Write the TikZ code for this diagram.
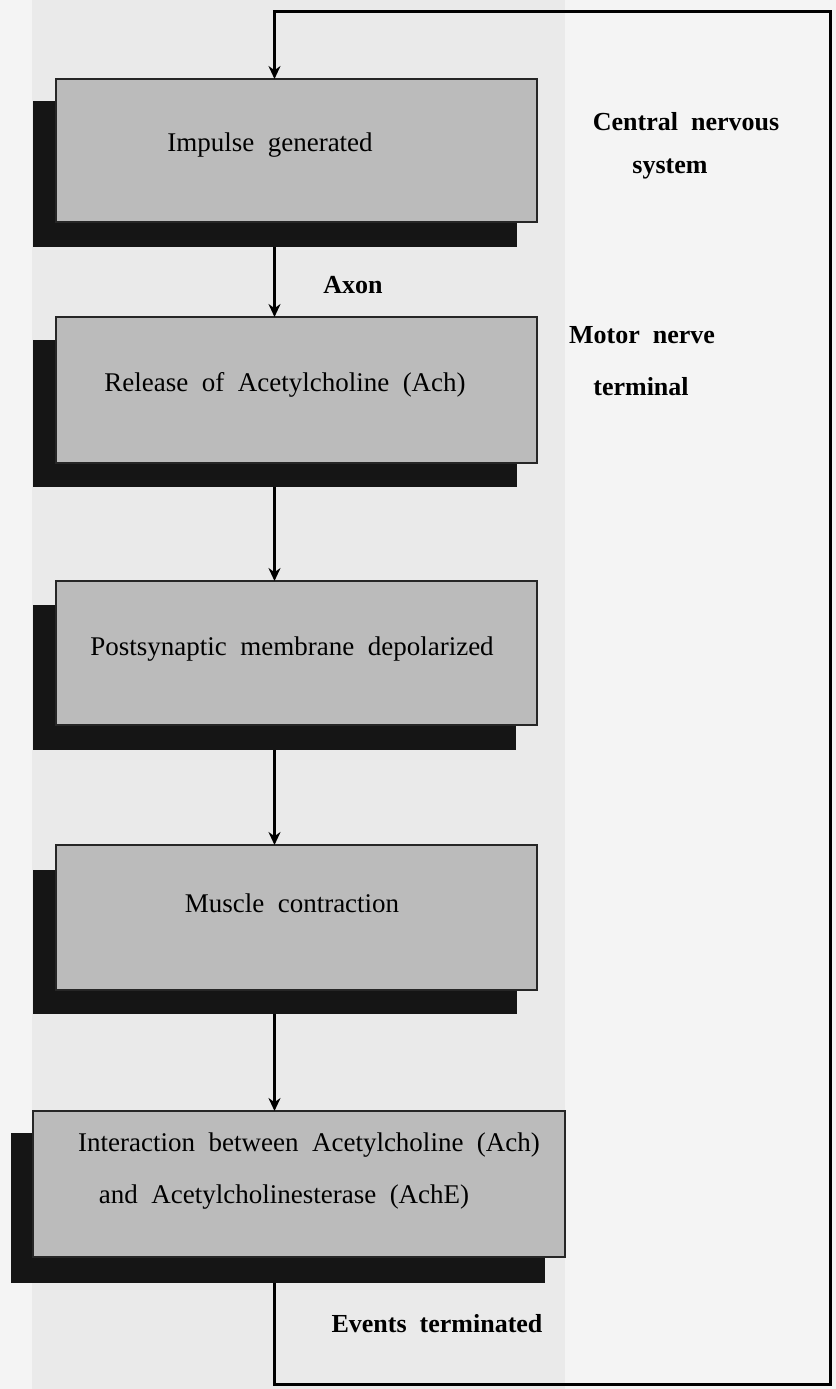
\documentclass[tikz,border=0pt]{standalone}
\usepackage{fontspec}
\setmainfont{Liberation Serif}
\newfontfamily\boxfont[WordSpace=1.7]{Liberation Serif}
\newfontfamily\labelfont[WordSpace=2]{Liberation Serif}
\usetikzlibrary{arrows.meta,calc}

\definecolor{paper}{HTML}{F4F4F4}
\definecolor{pastedpaper}{HTML}{EAEAEA}
\definecolor{boxgray}{HTML}{BBBBBB}
\definecolor{shadowink}{HTML}{151515}

% a rectangle node given by its corners: style, name, x1, y1, x2, y2
\newcommand\flowrect[6]{%
  \node[#1, minimum width={(#5-#3)*0.5pt}, minimum height={(#6-#4)*0.5pt}] (#2) at (#3,#4) {};}

\begin{document}
\begin{tikzpicture}[x=0.5pt,y=-0.5pt,
  shadowbox/.style={rectangle,fill=shadowink,inner sep=0,outer sep=0,anchor=north west},
  stepbox/.style={rectangle,fill=boxgray,draw=black!85,line width=0.9pt,inner sep=0,outer sep=0,anchor=north west},
  boxtext/.style={font=\boxfont\fontsize{13.5}{16}\selectfont,inner sep=0,anchor=base},
  sidelabel/.style={font=\labelfont\bfseries\fontsize{13}{15}\selectfont,inner sep=0,anchor=base},
  flow/.style={line width=1.4pt,-{Stealth[length=6.5pt,width=6pt]}},
  loopline/.style={line width=1.5pt,line join=miter}
]
% page
\fill[paper] (0,0) rectangle (836,1389);
\fill[pastedpaper] (32,0) rectangle (565,1389);
\useasboundingbox (0,0) rectangle (836,1389);

% drop shadows
\flowrect{shadowbox}{s1}{33}{101}{517}{247}
\flowrect{shadowbox}{s2}{33}{340}{517}{487}
\flowrect{shadowbox}{s3}{33}{605}{516}{750}
\flowrect{shadowbox}{s4}{33}{870}{517}{1014}
\flowrect{shadowbox}{s5}{11}{1133}{545}{1283}

% step boxes
\flowrect{stepbox}{b1}{56}{79}{537}{222}
\flowrect{stepbox}{b2}{56}{317}{537}{463}
\flowrect{stepbox}{b3}{56}{581}{537}{725}
\flowrect{stepbox}{b4}{56}{845}{537}{990}
\flowrect{stepbox}{b5}{33}{1111}{565}{1257}

% box texts
\node[boxtext] (t1) at (270,151) {Impulse generated};
\node[boxtext] (t2) at (285,391) {Release of Acetylcholine (Ach)};
\node[boxtext] (t3) at (292,655) {Postsynaptic membrane depolarized};
\node[boxtext] (t4) at (292,912) {Muscle contraction};
\node[boxtext] (t5a) at (309,1151) {Interaction between Acetylcholine (Ach)};
\node[boxtext] (t5b) at (284,1203) {and Acetylcholinesterase (AchE)};

% side labels
\node[sidelabel] (cns1) at (686,130) {Central nervous};
\node[sidelabel] (cns2) at (670,173) {system};
\node[sidelabel] (axon) at (353,293) {Axon};
\node[sidelabel] (mnt1) at (642,343) {Motor nerve};
\node[sidelabel] (mnt2) at (641,395) {terminal};
\node[sidelabel] (term) at (437,1332) {Events terminated};

% connectors
\coordinate (col) at (274.5,0);
\coordinate (looptop) at (0,11);
\coordinate (loopbottom) at (0,1384);
\coordinate (loopright) at (830,0);

\draw[flow] (s1.south -| col) -- (b2.north -| col);
\draw[flow] (s2.south -| col) -- (b3.north -| col);
\draw[flow] (s3.south -| col) -- (b4.north -| col);
\draw[flow] (s4.south -| col) -- (b5.north -| col);

% feedback loop back to the first step
\draw[flow,loopline] (s5.south -| col) -- (col |- loopbottom)
  -- (loopright |- loopbottom) -- (loopright |- looptop)
  -- (col |- looptop) -- (b1.north -| col);
\end{tikzpicture}
\end{document}
